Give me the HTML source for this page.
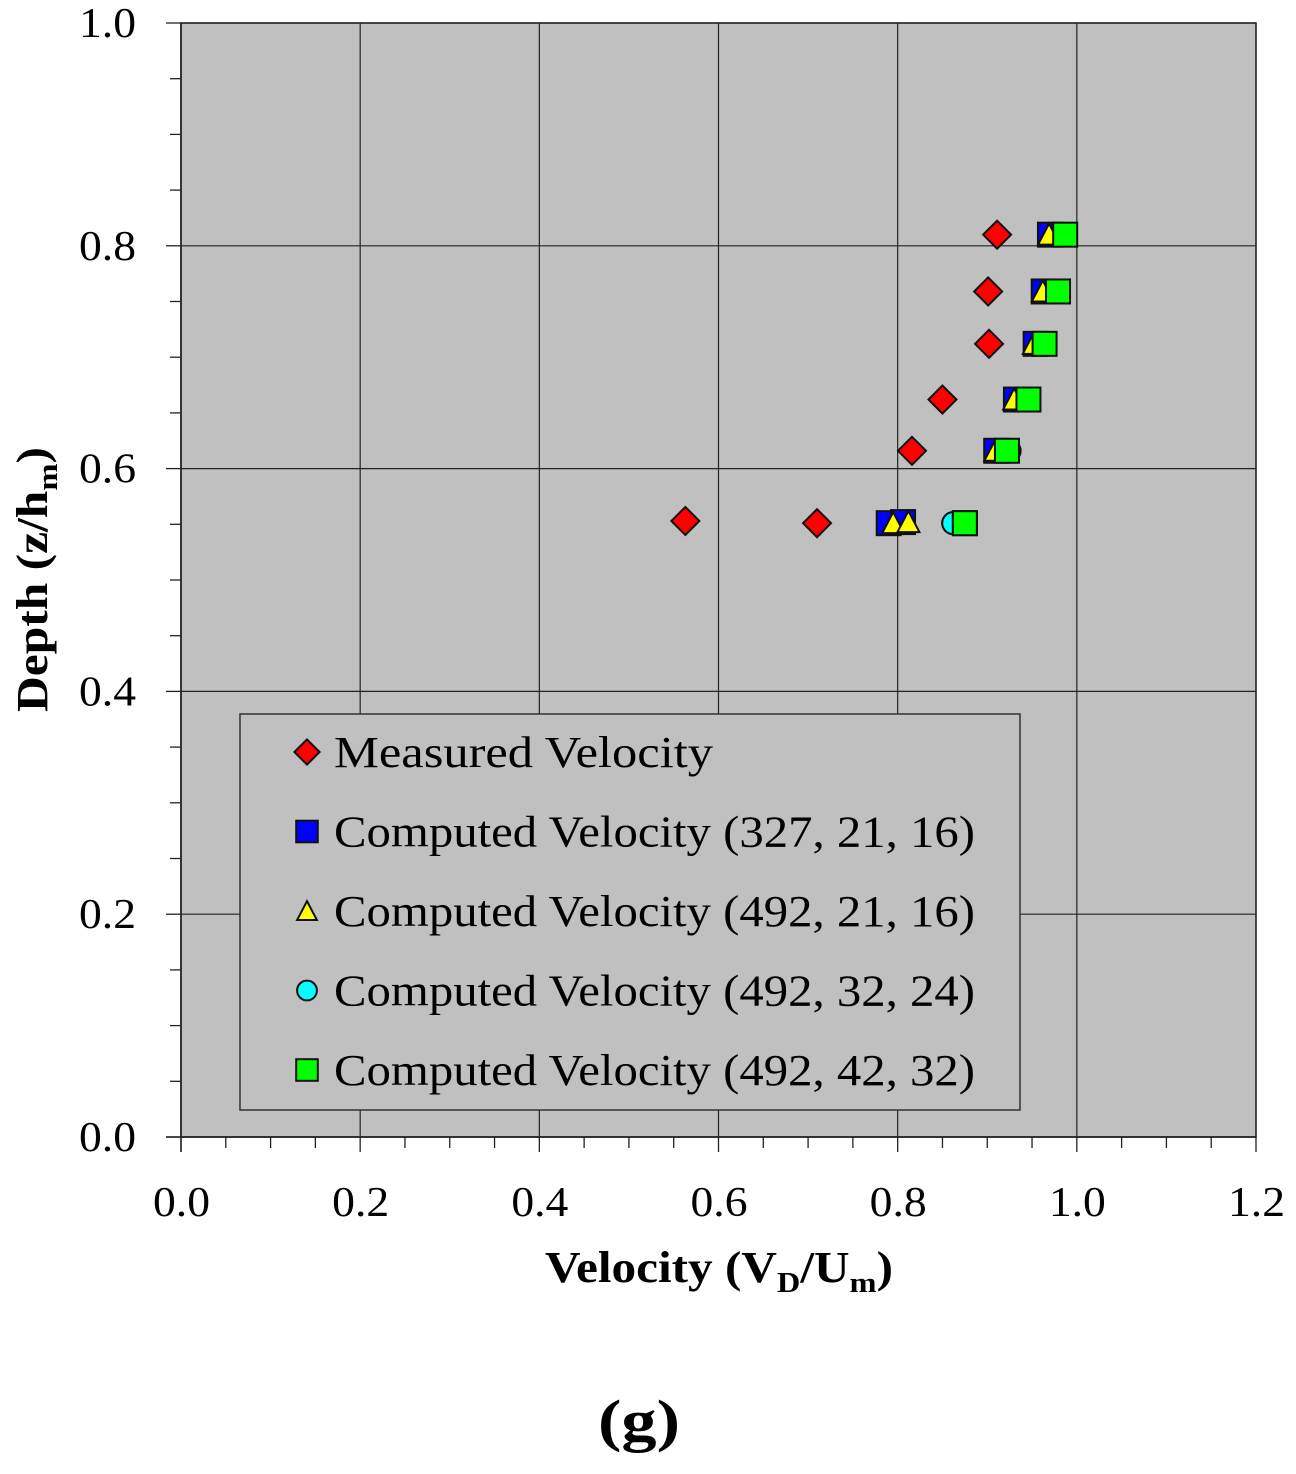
<!DOCTYPE html>
<html><head><meta charset="utf-8"><style>
body{margin:0;background:#fff;width:1296px;height:1469px;overflow:hidden}
svg text{font-family:"Liberation Serif",serif;fill:#000}
</style></head><body>
<svg id="chart" width="1296" height="1469" xmlns="http://www.w3.org/2000/svg"></svg>
<script>
const xTicks=[0.0,0.2,0.4,0.6,0.8,1.0,1.2];
const yTicks=[0.0,0.2,0.4,0.6,0.8,1.0];
const measX=[0.563,0.710,0.816,0.850,0.902,0.901,0.911];
const measY=[0.553,0.551,0.616,0.662,0.712,0.759,0.810];
const c327X=[0.790,0.806,0.910,0.932,0.954,0.963,0.970];
const c327Y=[0.551,0.552,0.616,0.662,0.712,0.759,0.810];
const c492aX=[0.795,0.812,0.909,0.930,0.952,0.962,0.969];
const c492aY=[0.551,0.552,0.616,0.662,0.712,0.759,0.810];
const c492bX=[0.862,0.862,0.925,0.946,0.964,0.979,0.987];
const c492bY=[0.551,0.551,0.616,0.662,0.712,0.759,0.810];
const c492cX=[0.875,0.875,0.922,0.946,0.964,0.979,0.987];
const c492cY=[0.551,0.551,0.616,0.662,0.712,0.759,0.810];
const legendLabels=["Measured Velocity","Computed Velocity (327, 21, 16)","Computed Velocity (492, 21, 16)","Computed Velocity (492, 32, 24)","Computed Velocity (492, 42, 32)"];

const NS="http://www.w3.org/2000/svg";
const svg=document.getElementById('chart');
const X0=181,X1=1256,Y0=1137,Y1=23;
const sx=v=>X0+(v/1.2)*(X1-X0);
const sy=v=>Y0-(v/1.0)*(Y0-Y1);
function mk(tag,a,parent){const e=document.createElementNS(NS,tag);for(const k in a)e.setAttribute(k,a[k]);(parent||svg).appendChild(e);return e;}

const bg=mk('rect',{x:X0,y:Y1,width:X1-X0,height:Y0-Y1,fill:'#c0c0c0',stroke:'#222','stroke-width':1.5});


const grid=mk('g',{});


xTicks.forEach(v=>{mk('line',{x1:sx(v),x2:sx(v),y1:Y1,y2:Y0,stroke:'#222','stroke-width':1.2},grid);});
yTicks.forEach(v=>{mk('line',{x1:X0,x2:X1,y1:sy(v),y2:sy(v),stroke:'#222','stroke-width':1.2},grid);});
const ax=mk('g',{});


mk('line',{x1:X0-15,x2:X1,y1:Y0,y2:Y0,stroke:'#222','stroke-width':1.5},ax);
mk('line',{x1:X0,x2:X0,y1:Y1,y2:Y0+15,stroke:'#222','stroke-width':1.5},ax);
for(let i=0;i<=24;i++){const v=i*0.05;const maj=i%4===0;mk('line',{x1:sx(v),x2:sx(v),y1:Y0,y2:Y0+(maj?15:11),stroke:'#222','stroke-width':1.3},ax);}
for(let i=0;i<=20;i++){const v=i*0.05;const maj=i%4===0;mk('line',{x1:X0-(maj?15:11),x2:X0,y1:sy(v),y2:sy(v),stroke:'#222','stroke-width':1.3},ax);}
xTicks.forEach(v=>{const t=mk('text',{x:sx(v)-28,y:1216,'font-size':42,textLength:57,lengthAdjust:'spacingAndGlyphs'});t.textContent=v.toFixed(1);

});
yTicks.forEach(v=>{const t=mk('text',{x:79,y:sy(v)+14,'font-size':42,textLength:57,lengthAdjust:'spacingAndGlyphs'});t.textContent=v.toFixed(1);

});
const xt=mk('text',{x:545,y:1282,'font-size':44,'font-weight':'bold',textLength:348,lengthAdjust:'spacingAndGlyphs'});
xt.innerHTML='Velocity (V<tspan font-size="29" dy="10">D</tspan><tspan dy="-10">/U</tspan><tspan font-size="29" dy="10">m</tspan><tspan dy="-10">)</tspan>';


const yt=mk('text',{transform:'translate(47,712) rotate(-90)','font-size':44,'font-weight':'bold',textLength:265,lengthAdjust:'spacingAndGlyphs'});
yt.innerHTML='Depth (z/h<tspan font-size="29" dy="10">m</tspan><tspan dy="-10">)</tspan>';


const cap=mk('text',{x:598,y:1440,'font-size':58,'font-weight':'bold',textLength:82,lengthAdjust:'spacingAndGlyphs'});
cap.textContent='(g)';



function marker(type,cx,cy,g,s){
  s=s||1;
  if(type==='diamond') return mk('polygon',{points:`${cx},${cy-14*s} ${cx+14*s},${cy} ${cx},${cy+14*s} ${cx-14*s},${cy}`,fill:'#f00',stroke:'#111','stroke-width':2},g);
  if(type==='blue') return mk('rect',{x:cx-12*s,y:cy-12*s,width:24*s,height:24*s,fill:'#00f',stroke:'#111','stroke-width':2},g);
  if(type==='green') return mk('rect',{x:cx-12*s,y:cy-12*s,width:24*s,height:24*s,fill:'#0f0',stroke:'#111','stroke-width':2},g);
  if(type==='tri') return mk('polygon',{points:`${cx},${cy-11*s} ${cx+11*s},${cy+10*s} ${cx-11*s},${cy+10*s}`,fill:'#ff0',stroke:'#111','stroke-width':2},g);
  if(type==='circ') return mk('circle',{cx:cx,cy:cy,r:11*s,fill:'#0ff',stroke:'#111','stroke-width':2},g);
}
const series=[['diamond',measX,measY,'measured-series'],['blue',c327X,c327Y,'computed-327-series'],['tri',c492aX,c492aY,'computed-492-21-series'],['circ',c492bX,c492bY,'computed-492-32-series'],['green',c492cX,c492cY,'computed-492-42-series']];
series.forEach(([t,xs,ys,n])=>{const g=mk('g',{});


xs.forEach((v,i)=>{const m=marker(t,sx(v),sy(ys[i]),g);

});});

const lg=mk('g',{});


mk('rect',{x:240,y:714,width:780,height:396,fill:'#c0c0c0',stroke:'#333','stroke-width':1.5},lg);
const ltypes=['diamond','blue','tri','circ','green'];
legendLabels.forEach((l,i)=>{const y=752+i*79.5;const e=mk('g',{},lg);


marker(ltypes[i],307,y,e,0.9);
const t=mk('text',{x:334,y:y+15,'font-size':44,textLength:(i===0?379:641),lengthAdjust:'spacingAndGlyphs'},e);t.textContent=l;});
</script>
</body></html>
